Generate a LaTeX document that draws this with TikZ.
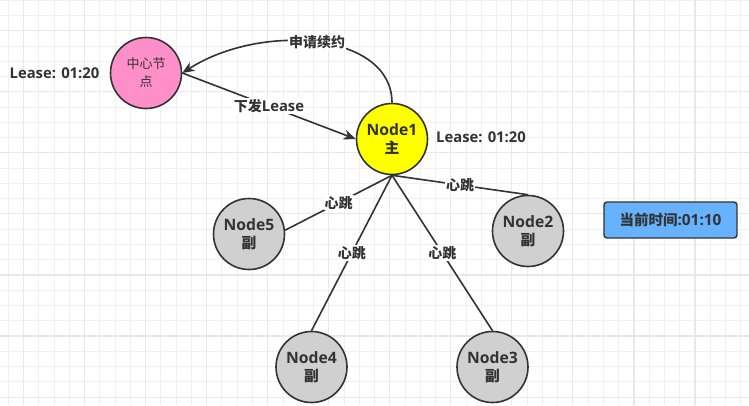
\documentclass[tikz,border=0pt]{standalone}
\usepackage{fontspec}
\setmainfont{Open Sans}[Scale=1.06]
\newfontfamily\cjk{Noto Sans CJK SC}
\usetikzlibrary{arrows.meta}
\definecolor{ink}{HTML}{333333}
\definecolor{gridminor}{HTML}{F0F0F0}
\definecolor{gridmajor}{HTML}{E8E8E8}
\definecolor{pinkfill}{HTML}{FF8FC8}
\definecolor{yellowfill}{HTML}{FFFF00}
\definecolor{grayfill}{HTML}{D0D0D0}
\definecolor{bluefill}{HTML}{66B2FF}
\begin{document}
\begin{tikzpicture}[x=1pt,y=-1pt,
  every node/.style={text=ink, font=\bfseries\fontsize{14}{18}\selectfont},
  nd/.style={circle, draw=ink, line width=1.6pt, minimum size=71pt, inner sep=0pt, align=center, font=\bfseries\fontsize{14.8}{18.5}\selectfont},
  lbl/.style={fill=white, inner sep=1pt},
  edge/.style={draw=ink, line width=1.6pt},
  arr/.style={edge, -{Stealth[length=12pt,width=10pt,inset=3.5pt]}},
  gmin/.style={draw=gridminor, line width=0.9pt},
  gmaj/.style={draw=gridmajor, line width=1.1pt}]
\useasboundingbox (0,0) rectangle (749,405);
\fill[white] (0,0) rectangle (749,405);
% grid
\foreach \k in {0,...,48} \draw[gmin] ({8.3+\k*15.26},0) -- ({8.3+\k*15.26},405);
\foreach \k in {0,...,26} \draw[gmin] (0,{0.3+\k*15.26}) -- (749,{0.3+\k*15.26});
\foreach \k in {1,5,...,45} \draw[gmaj] ({8.3+\k*15.26},0) -- ({8.3+\k*15.26},405);
\foreach \k in {2,6,...,26} \draw[gmaj] (0,{0.3+\k*15.26}) -- (749,{0.3+\k*15.26});
% nodes
\node[nd, fill=pinkfill, font=\mdseries\fontsize{13}{18}\selectfont\cjk] (c) at (146,73) {中心节\\点};
\node[nd, fill=yellowfill] (n1) at (392,139) {Node1\\{\cjk 主}};
\node[nd, fill=grayfill] (n5) at (249,234) {Node5\\{\cjk 副}};
\node[nd, fill=grayfill] (n2) at (528,231) {Node2\\{\cjk 副}};
\node[nd, fill=grayfill] (n4) at (311.5,367) {Node4\\{\cjk 副}};
\node[nd, fill=grayfill] (n3) at (492.5,367) {Node3\\{\cjk 副}};
\node (l1) at (54.5,73) {Lease: 01:20};
\node (l2) at (481,137) {Lease: 01:20};
\node[draw=ink, line width=1.4pt, fill=bluefill, rounded corners=3pt, minimum width=133pt, minimum height=36pt, inner sep=0pt, font=\bfseries\fontsize{14.5}{18}\selectfont] (t) at (670.5,220) {{\cjk 当前时间}:01:10};
% connectors
\draw[arr] (n1.north) .. controls +(0,-70) and (262,22) .. node[lbl, pos=0.5] {\cjk 申请续约} (c.east);
\draw[arr] (c.east) -- node[lbl] {{\cjk 下发}Lease} (n1.west);
\draw[edge] (n1.south) -- node[lbl] {\cjk 心跳} (n5.6);
\draw[edge] (n1.south) -- node[lbl] {\cjk 心跳} (n2.north);
\draw[edge] (n1.south) -- node[lbl] {\cjk 心跳} (n4.north);
\draw[edge] (n1.south) -- node[lbl] {\cjk 心跳} (n3.north);
\end{tikzpicture}
\end{document}
